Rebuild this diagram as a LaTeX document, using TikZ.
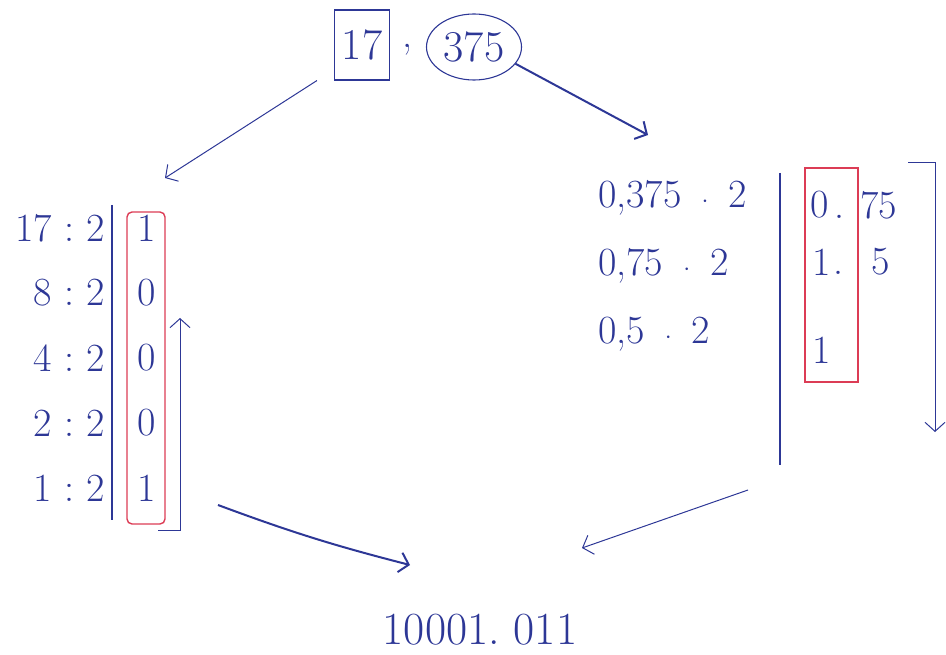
\documentclass[tikz,border=0pt]{standalone}
\usetikzlibrary{arrows.meta,shapes.geometric}
\definecolor{modra}{RGB}{45,55,150}
\definecolor{rdeca}{RGB}{220,60,85}
\tikzset{
  txt/.style={text=modra, font=\fontsize{40}{46}\selectfont, inner sep=0pt},
  crta/.style={draw=modra, line width=1.1pt},
  thinarr/.style={draw=modra, line width=1pt, -{Straight Barb[length=9pt,width=20pt]}},
  thickarr/.style={draw=modra, line width=2pt, -{Straight Barb[length=9pt,width=20pt]}},
  redbox/.style={draw=rdeca, line width=1.4pt}
}
\begin{document}
\begin{tikzpicture}[x=1pt, y=-1pt]
  \useasboundingbox (0,0) rectangle (946,655);
  % število
  \node[txt, font=\fontsize{44}{50}\selectfont, crta, minimum width=55pt, minimum height=70pt] (n17) at (362,45) {17};
  \node[txt] (pika) at (407,50) {,};
  \node[txt, font=\fontsize{44}{50}\selectfont, crta, ellipse, minimum width=95pt, minimum height=66pt] (n375) at (474,47) {375};
  % koordinate
  \coordinate (L) at (165,178);
  \coordinate (R) at (648,135);
  \coordinate (S1) at (218,505);
  \coordinate (K1) at (410,565);
  \coordinate (S2) at (748,490);
  \coordinate (K2) at (582,548);
  % puščice
  \draw[thinarr] ([xshift=-17pt]n17.south west) -- (L);
  \draw[thickarr] (n375.-22) -- (R);
  % deljenje
  \foreach \n/\r [count=\i] in {17/1, 8/0, 4/0, 2/0, 1/1} {
    \pgfmathsetmacro\y{228+65*(\i-1)}
    \node[txt, anchor=east] (d\i) at (105,\y) {\n\ :\ 2};
    \node[txt] (o\i) at (147,\y) {\r};
  }
  \draw[crta] (112,205) -- (112,520);
  \draw[redbox, rounded corners=5pt] (127,212) rectangle (165,524);
  \draw[thinarr] (158,530) -- (180,530) -- (180,318);
  % množenje
  \foreach \a [count=\i] in {{0,375}, {0,75}, {0,5}} {
    \pgfmathsetmacro\y{198+68*(\i-1)}
    \node[txt, anchor=west] (m\i) at (598,\y) {\a\hspace{20pt}$\cdot$\hspace{20pt}2};
  }
  \draw[crta] (780,173) -- (780,465);
  \draw[redbox] (805,168) rectangle (858,382);
  \node[txt] (c1) at (820,205) {0};
  \node[txt, anchor=west] (f1) at (834,205) {.\hspace{16pt}75};
  \node[txt] (c2) at (822,262) {1};
  \node[txt, anchor=west] (f2) at (833,262) {.\hspace{28pt}5};
  \node[txt] (c3) at (822,350) {1};
  \draw[thinarr] (908,163) -- (935,163) -- (935,432);
  % rezultat
  \node[txt, font=\fontsize{46}{52}\selectfont] (res) at (480,630) {10001.\hspace{14pt}011};
  \draw[thickarr] (S1) to[bend right=3] (K1);
  \draw[thinarr] (S2) -- (K2);
\end{tikzpicture}
\end{document}
